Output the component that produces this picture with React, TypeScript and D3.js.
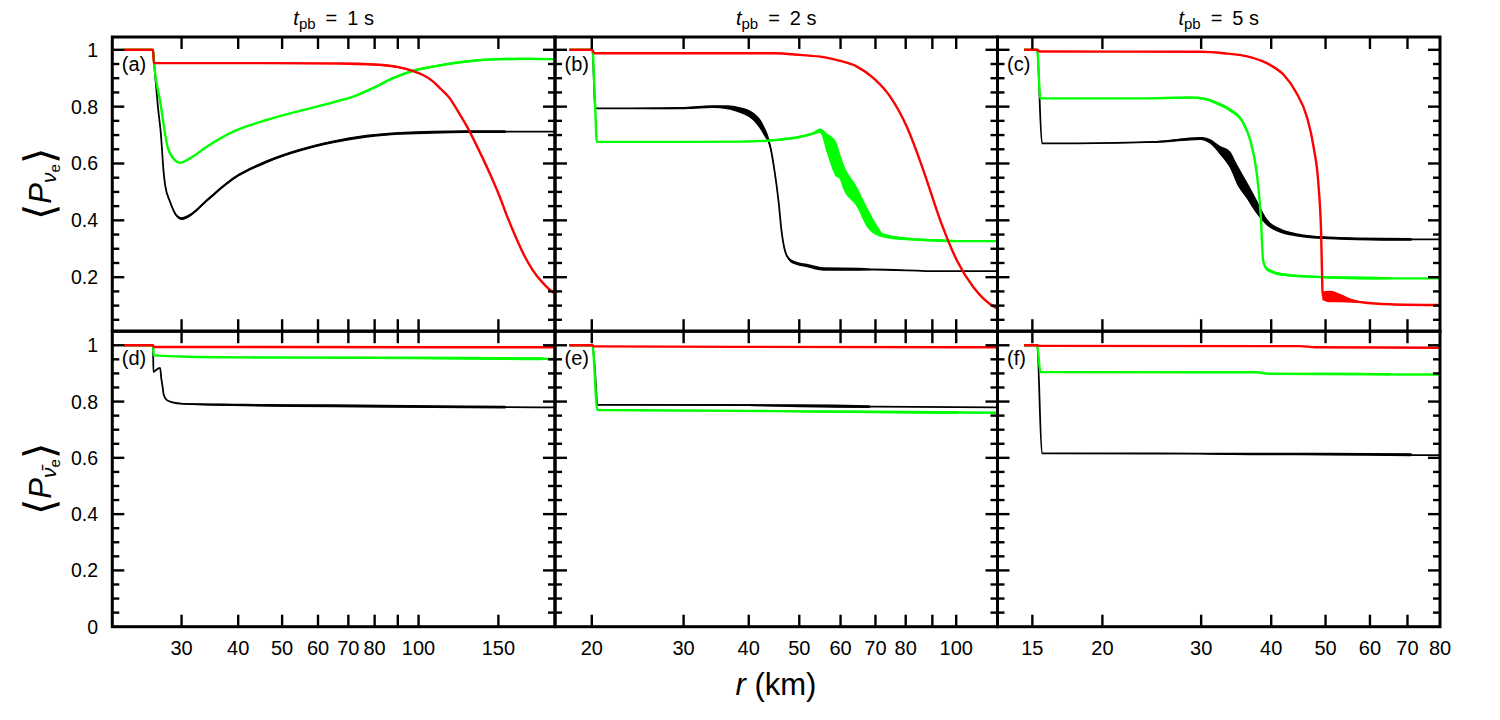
import React from 'react';
import * as d3 from 'd3';

// Each point: [r (km), mean survival probability, half-width of the fluctuation band]
type Pt = [number, number, number];

// ---- radial ranges (log axes) for the three post-bounce times ----
const rDomainA: [number, number] = [21.1, 200];
const rDomainB: [number, number] = [17, 120];
const rDomainC: [number, number] = [13, 80];

const xTicksA = [30, 40, 50, 60, 70, 80, 90, 100, 150];
const xLabelsA = [30, 40, 50, 60, 70, 80, 100, 150];
const xTicksB = [20, 30, 40, 50, 60, 70, 80, 90, 100];
const xLabelsB = [20, 30, 40, 50, 60, 70, 80, 100];
const xTicksC = [15, 20, 30, 40, 50, 60, 70];
const xLabelsC = [15, 20, 30, 40, 50, 60, 70, 80];

const yDomainNu: [number, number] = [0.01, 1.045];
const yDomainNuBar: [number, number] = [0, 1.05];
const yLabelsNu = [0.2, 0.4, 0.6, 0.8, 1];
const yLabelsNuBar = [0, 0.2, 0.4, 0.6, 0.8, 1];

const titles = ['1', '2', '5'];
const panelTags = ['(a)', '(b)', '(c)', '(d)', '(e)', '(f)'];

// ---- (a) neutrinos, t_pb = 1 s ----
const aBlack: Pt[] = [
  [22.4, 1, 0], [25.95, 1, 0], [26.1, 0.95, 0], [26.6, 0.8, 0], [27.05, 0.69, 0], [27.12, 0.665, 0],
  [27.35, 0.58, 0], [27.6, 0.523, 0], [28.3, 0.465, 0.002], [29.2, 0.418, 0.004], [30.0, 0.406, 0.005],
  [31.3, 0.418, 0.005], [34.1, 0.47, 0.005], [39.0, 0.547, 0.005], [46.2, 0.606, 0.005], [54.7, 0.647, 0.005],
  [64.8, 0.676, 0.005], [76.7, 0.696, 0.005], [90.8, 0.706, 0.005], [107.5, 0.71, 0.005], [127.4, 0.712, 0.005],
  [155, 0.712, 0.005], [156.5, 0.712, 0], [200, 0.712, 0],
];
const aGreen: Pt[] = [
  [22.4, 1, 0], [25.95, 1, 0], [26.1, 0.95, 0], [26.9, 0.82, 0], [28.0, 0.653, 0], [29.0, 0.612, 0],
  [29.7, 0.602, 0], [31.3, 0.618, 0], [34.1, 0.659, 0], [39.0, 0.712, 0.001], [46.2, 0.753, 0.001],
  [54.7, 0.785, 0.002], [64.8, 0.815, 0.003], [71.7, 0.835, 0.003], [79.3, 0.865, 0.004], [87.8, 0.9, 0.004],
  [97.2, 0.926, 0.004], [107.5, 0.941, 0.004], [127.4, 0.959, 0.004], [150.9, 0.967, 0.004], [175, 0.968, 0.004],
  [195, 0.967, 0.003], [200, 0.967, 0],
];
const aRed: Pt[] = [
  [22.4, 1, 0], [25.95, 1, 0], [26.05, 0.953, 0], [45, 0.953, 0], [67, 0.952, 0.001], [80, 0.948, 0.003],
  [90.8, 0.938, 0.003], [97, 0.926, 0.003], [102, 0.912, 0.002], [107.4, 0.89, 0.002], [112, 0.862, 0.002],
  [117.1, 0.83, 0.002], [122, 0.785, 0.001], [127.4, 0.735, 0.001], [133, 0.677, 0.001], [138.6, 0.618, 0.001],
  [145, 0.55, 0.001], [150.9, 0.485, 0.001], [157, 0.412, 0.001], [164.2, 0.338, 0.001], [171, 0.277, 0.001],
  [178.7, 0.224, 0.001], [188, 0.18, 0.001], [197.2, 0.149, 0.001], [200, 0.143, 0],
];

// ---- (b) neutrinos, t_pb = 2 s ----
const bBlack: Pt[] = [
  [18.1, 1, 0], [20.05, 1, 0], [20.3, 0.8, 0], [20.45, 0.794, 0], [25, 0.794, 0.002], [30, 0.795, 0.004],
  [34.2, 0.8, 0.005], [36.3, 0.798, 0.007], [38.5, 0.788, 0.01], [40.8, 0.765, 0.014], [42.7, 0.718, 0.017],
  [44.0, 0.659, 0.01], [44.9, 0.565, 0.005], [45.6, 0.471, 0.004], [46.3, 0.353, 0.004], [47.3, 0.276, 0.005],
  [48.7, 0.253, 0.006], [51.7, 0.241, 0.006], [55.7, 0.229, 0.006], [65, 0.228, 0.005], [68.4, 0.227, 0.003],
  [69, 0.227, 0], [93.2, 0.221, 0], [120, 0.221, 0],
];
const bGreen: Pt[] = [
  [18.1, 1, 0], [20.05, 1, 0], [20.3, 0.8, 0], [20.45, 0.676, 0], [30, 0.676, 0.001], [38.5, 0.677, 0.002],
  [44.6, 0.682, 0.003], [50.2, 0.694, 0.004], [53.2, 0.706, 0.005], [54.8, 0.715, 0.008], [56.5, 0.671, 0.035],
  [59.0, 0.612, 0.06], [59.5, 0.6, 0.05], [60.8, 0.553, 0.045], [64.5, 0.482, 0.035], [67.4, 0.412, 0.035],
  [70.5, 0.365, 0.018], [72.5, 0.347, 0.007], [80.4, 0.335, 0.005], [90, 0.33, 0.004], [100.3, 0.327, 0.003],
  [101.5, 0.327, 0], [120, 0.327, 0],
];
const bRed: Pt[] = [
  [18.1, 1, 0], [20.05, 1, 0], [20.2, 0.988, 0], [44.6, 0.988, 0], [50.2, 0.982, 0], [55.7, 0.974, 0],
  [59.9, 0.961, 0], [64.5, 0.941, 0], [69.4, 0.9, 0], [74.7, 0.835, 0], [80.4, 0.729, 0], [86.5, 0.576, 0],
  [93.2, 0.4, 0], [100.3, 0.259, 0], [108, 0.164, 0], [118.8, 0.094, 0], [120, 0.09, 0],
];

// ---- (c) neutrinos, t_pb = 5 s ----
const cBlack: Pt[] = [
  [14.5, 1, 0], [15.3, 1, 0], [15.6, 0.671, 0], [18, 0.671, 0], [25, 0.676, 0.003], [29.9, 0.688, 0.005],
  [31.1, 0.678, 0.008], [32.4, 0.647, 0.015], [33.8, 0.612, 0.03], [34.7, 0.565, 0.035], [36.2, 0.506, 0.03],
  [37.7, 0.447, 0.025], [39.3, 0.394, 0.012], [41.4, 0.365, 0.008], [44.4, 0.349, 0.006], [49.6, 0.339, 0.005],
  [56.8, 0.335, 0.005], [71, 0.333, 0.005], [71.5, 0.333, 0], [80, 0.333, 0],
];
const cGreen: Pt[] = [
  [14.5, 1, 0], [15.3, 1, 0], [15.5, 0.829, 0], [23.3, 0.829, 0], [28.7, 0.832, 0.003], [30.5, 0.827, 0.004],
  [32.0, 0.812, 0.005], [33.8, 0.788, 0.006], [35.7, 0.741, 0.007], [36.7, 0.682, 0.006], [37.7, 0.565, 0.004],
  [38.3, 0.424, 0.002], [38.7, 0.259, 0.002], [39.3, 0.229, 0.006], [42.1, 0.209, 0.005], [49.6, 0.2, 0.004],
  [58, 0.197, 0.005], [65.5, 0.196, 0.003], [66.5, 0.196, 0], [80, 0.196, 0],
];
const cRed: Pt[] = [
  [14.5, 1, 0], [15.3, 1, 0], [15.45, 0.994, 0], [29.9, 0.993, 0], [32.9, 0.988, 0], [36.7, 0.974, 0],
  [39.8, 0.947, 0], [42.1, 0.912, 0], [44.4, 0.847, 0], [46.3, 0.765, 0], [47.6, 0.659, 0], [48.6, 0.518, 0],
  [49.1, 0.353, 0], [49.3, 0.2, 0], [49.4, 0.135, 0.015], [51, 0.132, 0.02], [53, 0.127, 0.015],
  [56, 0.116, 0.006], [58, 0.112, 0.002], [65.2, 0.105, 0], [80, 0.102, 0],
];

// ---- (d) antineutrinos, t_pb = 1 s ----
const dBlack: Pt[] = [
  [22.4, 1, 0], [25.95, 1, 0], [26.0, 0.905, 0], [26.5, 0.915, 0], [26.9, 0.92, 0], [27.05, 0.885, 0],
  [27.2, 0.86, 0], [27.4, 0.824, 0], [27.8, 0.806, 0], [28.5, 0.798, 0], [30.3, 0.792, 0.002], [39, 0.788, 0.004],
  [64.8, 0.785, 0.005], [107.5, 0.782, 0.005], [155, 0.78, 0.005], [156.5, 0.78, 0], [200, 0.779, 0],
];
const dGreen: Pt[] = [
  [22.4, 1, 0], [25.95, 1, 0], [26.05, 0.964, 0], [30, 0.96, 0.001], [40, 0.957, 0.002], [60, 0.956, 0.003],
  [100, 0.955, 0.004], [150, 0.953, 0.005], [185, 0.952, 0.005], [195, 0.951, 0.002], [200, 0.951, 0],
];
const dRed: Pt[] = [[22.4, 1, 0], [25.95, 1, 0], [26.05, 0.994, 0], [200, 0.993, 0]];

// ---- (e) antineutrinos, t_pb = 2 s ----
const eBlack: Pt[] = [
  [18.1, 1, 0], [20.05, 1, 0], [20.3, 0.9, 0], [20.5, 0.788, 0], [25, 0.788, 0.001], [40, 0.787, 0.003],
  [50, 0.785, 0.005], [68, 0.782, 0.005], [69, 0.782, 0], [120, 0.779, 0],
];
const eGreen: Pt[] = [
  [18.1, 1, 0], [20.05, 1, 0], [20.5, 0.77, 0], [40, 0.767, 0.001], [50, 0.765, 0.003], [70, 0.763, 0.004],
  [100, 0.761, 0.005], [101.5, 0.761, 0], [120, 0.76, 0],
];
const eRed: Pt[] = [[18.1, 1, 0], [20.05, 1, 0], [20.2, 0.996, 0], [120, 0.993, 0]];

// ---- (f) antineutrinos, t_pb = 5 s ----
const fBlack: Pt[] = [
  [14.5, 1, 0], [15.3, 1, 0], [15.6, 0.616, 0], [30, 0.615, 0.002], [34, 0.614, 0.004], [50, 0.613, 0.005],
  [71, 0.611, 0.005], [71.5, 0.61, 0], [80, 0.61, 0],
];
const fGreen: Pt[] = [
  [14.5, 1, 0], [15.3, 1, 0], [15.5, 0.905, 0], [37.7, 0.904, 0.001], [39.5, 0.899, 0.002], [50, 0.898, 0.004],
  [65, 0.897, 0.004], [66.5, 0.896, 0], [80, 0.896, 0],
];
const fRed: Pt[] = [[14.5, 1, 0], [15.3, 1, 0], [15.45, 0.998, 0], [45, 0.997, 0], [48, 0.993, 0], [80, 0.991, 0]];

const seriesColors = ['#000000', '#00ff00', '#ff0000'];
const seriesWidths = [1.8, 2.4, 2.4];

// ---- layout ----
const W = 1500;
const H = 720;
const colEdges = [112.3, 555, 997.5, 1440];
const rowEdges = [37, 331.2, 626.7];
const FONT = '"Liberation Sans", Arial, sans-serif';

const xDomains = [rDomainA, rDomainB, rDomainC];
const xTicks = [xTicksA, xTicksB, xTicksC];
const xLabels = [xLabelsA, xLabelsB, xLabelsC];
const panelSeries: Pt[][][] = [
  [aBlack, aGreen, aRed], [bBlack, bGreen, bRed], [cBlack, cGreen, cRed],
  [dBlack, dGreen, dRed], [eBlack, eGreen, eRed], [fBlack, fGreen, fRed],
];

const fmtY = (v: number) => (v === 0 ? '0' : v === 1 ? '1' : v.toFixed(1));

function Panel({ idx }: { idx: number }) {
  const col = idx % 3;
  const row = Math.floor(idx / 3);
  const x0 = colEdges[col];
  const x1 = colEdges[col + 1];
  const yTop = rowEdges[row];
  const yBot = rowEdges[row + 1];
  const yDom = row === 0 ? yDomainNu : yDomainNuBar;

  const x = d3.scaleLog().domain(xDomains[col]).range([x0, x1]);
  const y = d3.scaleLinear().domain(yDom).range([yBot, yTop]);

  const line = d3
    .line<Pt>()
    .x((d) => x(d[0]))
    .y((d) => y(d[1]))
    .curve(d3.curveMonotoneX);
  const band = d3
    .area<Pt>()
    .x((d) => x(d[0]))
    .y0((d) => y(d[1] - d[2]))
    .y1((d) => y(d[1] + d[2]))
    .curve(d3.curveMonotoneX);

  const minorY = d3
    .range(0, 1.0001, 0.05)
    .map((v) => +v.toFixed(2))
    .filter((v) => v > yDom[0] + 0.001 && v < yDom[1] - 0.001);
  const isMajor = (v: number) => Math.abs(v * 5 - Math.round(v * 5)) < 1e-6;
  const clipId = `clip-${idx}`;

  return (
    <g>
      <defs>
        <clipPath id={clipId}>
          <rect x={x0} y={yTop} width={x1 - x0} height={yBot - yTop} />
        </clipPath>
      </defs>
      <g clipPath={`url(#${clipId})`}>
        {panelSeries[idx].map((s, i) => (
          <g key={i}>
            <path d={band(s) ?? ''} fill={seriesColors[i]} stroke="none" />
            <path
              d={line(s) ?? ''}
              fill="none"
              stroke={seriesColors[i]}
              strokeWidth={seriesWidths[i]}
              strokeLinejoin="round"
            />
          </g>
        ))}
      </g>
      {/* y ticks, inward on both sides */}
      {minorY.map((v) => {
        const len = isMajor(v) ? 12 : 7;
        const yy = y(v);
        return (
          <g key={`y${v}`} stroke="#000" strokeWidth={2.4}>
            <line x1={x0} x2={x0 + len} y1={yy} y2={yy} />
            <line x1={x1} x2={x1 - len} y1={yy} y2={yy} />
          </g>
        );
      })}
      {/* x ticks, inward on top and bottom */}
      {xTicks[col].map((t) => {
        const xx = x(t);
        return (
          <g key={`x${t}`} stroke="#000" strokeWidth={2.4}>
            <line x1={xx} x2={xx} y1={yTop} y2={yTop + 12} />
            <line x1={xx} x2={xx} y1={yBot} y2={yBot - 12} />
          </g>
        );
      })}
      <rect x={x0} y={yTop} width={x1 - x0} height={yBot - yTop} fill="none" stroke="#000" strokeWidth={3} />
      <text x={x0 + 9.5} y={yTop + 34} fontSize={20} fontFamily={FONT} fill="#000">
        {panelTags[idx]}
      </text>
      {row === 1 &&
        xLabels[col].map((t) => (
          <text key={`xl${t}`} x={x(t)} y={655} fontSize={20} textAnchor="middle" fontFamily={FONT} fill="#000">
            {t}
          </text>
        ))}
      {col === 0 &&
        (row === 0 ? yLabelsNu : yLabelsNuBar).map((v) => (
          <text key={`yl${v}`} x={98} y={y(v) + 7} fontSize={19.5} textAnchor="end" fontFamily={FONT} fill="#000">
            {fmtY(v)}
          </text>
        ))}
      {row === 0 && (
        <text x={(x0 + x1) / 2} y={25} fontSize={20} textAnchor="middle" fontFamily={FONT} fill="#000">
          <tspan fontStyle="italic">t</tspan>
          <tspan fontSize={15} dy={4}>pb</tspan>
          <tspan dy={-4}>{`\u2002=\u2002${titles[col]} s`}</tspan>
        </text>
      )}
    </g>
  );
}

function YTitle({ cy, bar }: { cy: number; bar: boolean }) {
  return (
    <text transform={`translate(51,${cy}) rotate(-90)`} textAnchor="middle" fontFamily={FONT} fontSize={31} fill="#000">
      <tspan fontSize={42} dy={3}>{'\u27E8'}</tspan>
      <tspan fontStyle="italic" dy={-3}>P</tspan>
      <tspan fontStyle="italic" fontSize={21} dy={5}>
        {bar ? '\u03BD\u0304' : '\u03BD'}
      </tspan>
      <tspan fontSize={15} dy={4}>e</tspan>
      <tspan fontSize={42} dy={-6}>{'\u27E9'}</tspan>
    </text>
  );
}

export default function App() {
  return (
    <svg
      width={W}
      height={H}
      viewBox={`0 0 ${W} ${H}`}
      style={{ position: 'absolute', left: 0, top: 0, background: '#fff' }}
    >
      <rect x={0} y={0} width={W} height={H} fill="#fff" />
      {[0, 1, 2, 3, 4, 5].map((i) => (
        <Panel key={i} idx={i} />
      ))}
      <YTitle cy={184} bar={false} />
      <YTitle cy={479} bar={true} />
      <text x={776} y={695} textAnchor="middle" fontFamily={FONT} fontSize={31} fill="#000">
        <tspan fontStyle="italic">r</tspan>
        <tspan>{' (km)'}</tspan>
      </text>
    </svg>
  );
}
